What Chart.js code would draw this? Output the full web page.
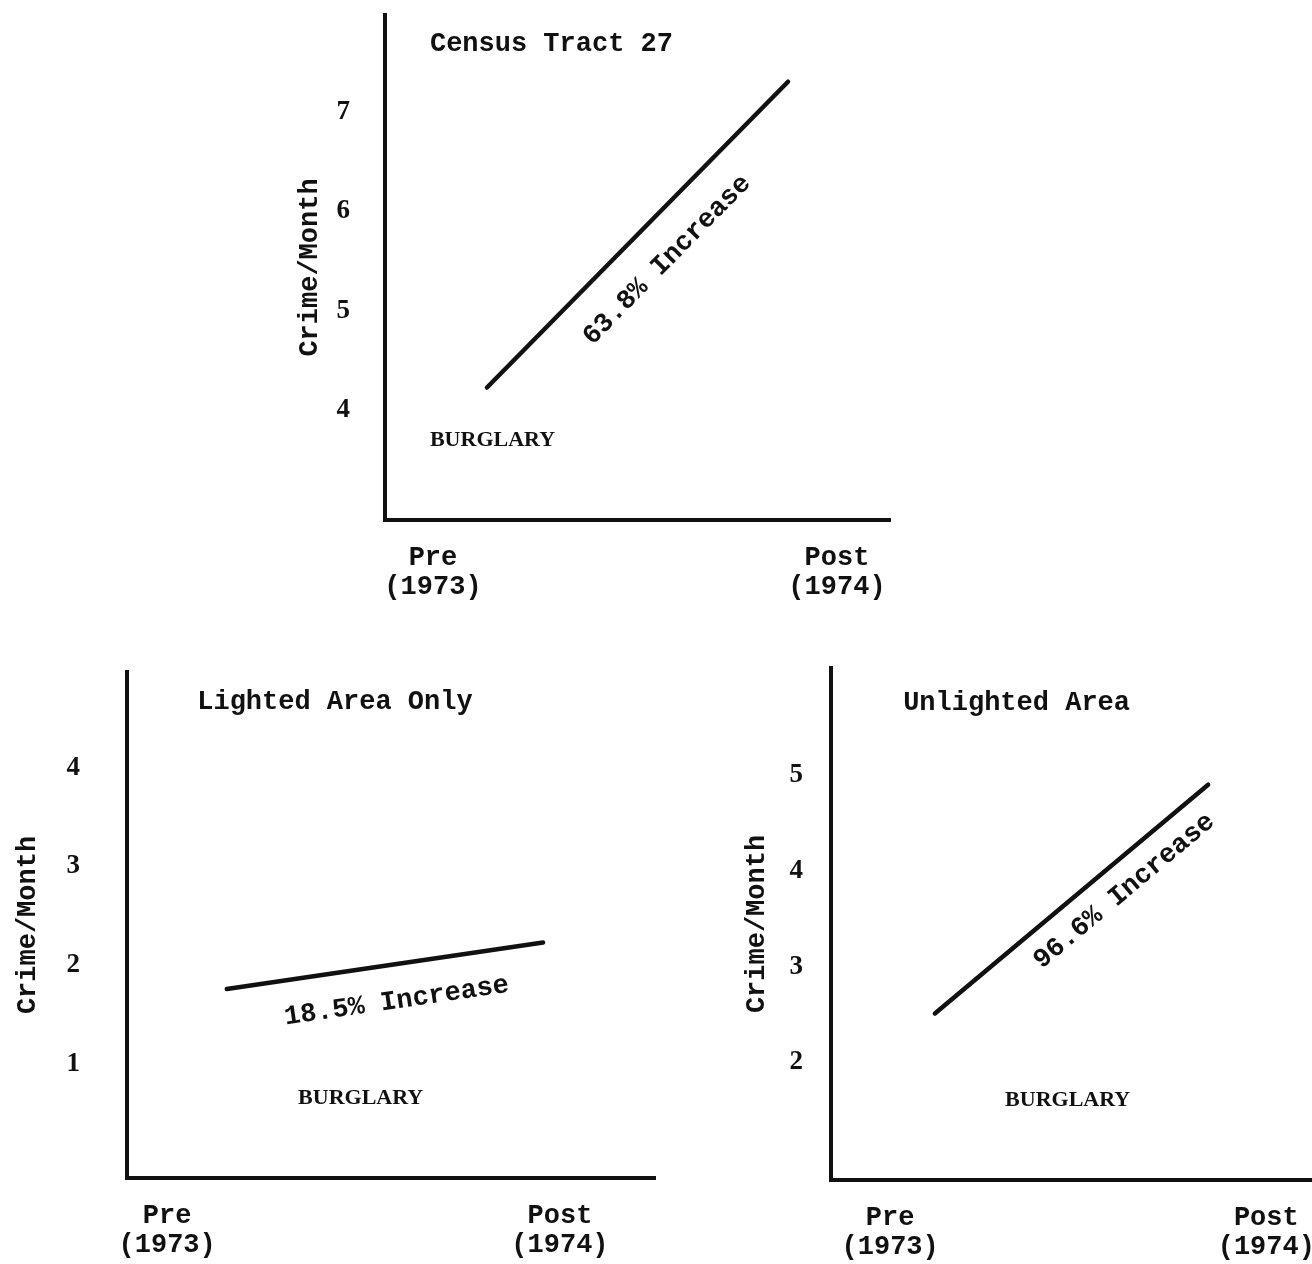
<!DOCTYPE html>
<html>
<head>
<meta charset="utf-8">
<script src="https://cdn.jsdelivr.net/npm/chart.js@4.4.1/dist/chart.umd.min.js"></script>
<style>
  html, body { margin: 0; padding: 0; background: #fff; overflow: hidden; }
  body { width: 1312px; height: 1264px; position: relative; }
  .panel { position: absolute; }
</style>
</head>
<body>
<div class="panel" style="left:280px;top:0;width:620px;height:630px"><canvas id="js--chart--1"></canvas></div>
<div class="panel" style="left:0;top:650px;width:680px;height:614px"><canvas id="js--chart--2"></canvas></div>
<div class="panel" style="left:700px;top:650px;width:640px;height:614px"><canvas id="js--chart--3"></canvas></div>
<script>
// periods on the x axis
const periods = [["Pre", "(1973)"], ["Post", "(1974)"]];

// burglaries per month, pre and post
const tractValues = [4.23, 7.3];
const lightedValues = [1.76, 2.23];
const unlightedValues = [2.51, 4.9];

// y tick labels shown on each panel
const tractTicks = [4, 5, 6, 7];
const lightedTicks = [1, 2, 3, 4];
const unlightedTicks = [2, 3, 4, 5];

const panelTitles = ["Census Tract 27", "Lighted Area Only", "Unlighted Area"];
const increases = ["63.8% Increase", "18.5% Increase", "96.6% Increase"];
const crimeType = "BURGLARY";

const ink = '#111';
const mono = '"Liberation Mono", "DejaVu Sans Mono", monospace';
const serif = '"Liberation Serif", "DejaVu Serif", serif';

const notes = {
    id: 'notes',
    afterDatasetsDraw(chart, args, opts) {
        const ctx = chart.ctx;
        const a = chart.chartArea;
        ctx.save();
        ctx.fillStyle = ink;
        ctx.textBaseline = 'middle';
        ctx.textAlign = 'left';
        ctx.font = 'bold 27px ' + mono;
        ctx.fillText(opts.title, a.left + opts.titleAt[0] * a.width, a.top + opts.titleAt[1] * a.height);
        ctx.font = 'bold 22px ' + serif;
        ctx.fillText(crimeType, a.left + opts.typeAt[0] * a.width, a.top + opts.typeAt[1] * a.height);

        // label along the line
        const pts = chart.getDatasetMeta(0).data;
        const dx = pts[1].x - pts[0].x, dy = pts[1].y - pts[0].y;
        const ang = Math.atan2(dy, dx);
        const cx = pts[0].x + dx * opts.labelAt - Math.sin(ang) * opts.labelOffset;
        const cy = pts[0].y + dy * opts.labelAt + Math.cos(ang) * opts.labelOffset;
        ctx.translate(cx, cy);
        ctx.rotate(ang);
        ctx.textAlign = 'center';
        ctx.font = 'bold 27px ' + mono;
        ctx.fillText(opts.label, 0, 0);
        ctx.restore();
    }
};

function noPad(s) {
    s.paddingTop = 0;
    s.paddingBottom = 0;
    s.paddingLeft = 0;
    s.paddingRight = 0;
}

function makePanel(id, p) {
    const config = {
        type: 'line',
        data: {
            datasets: [{
                data: p.values.map((v, i) => ({ x: p.lineX[i], y: v })),
                borderColor: ink,
                borderWidth: 4.5,
                borderCapStyle: 'round',
                pointRadius: 0,
                fill: false
            }]
        },
        options: {
            responsive: true,
            maintainAspectRatio: false,
            animation: false,
            devicePixelRatio: 1,
            layout: { padding: p.padding },
            plugins: {
                legend: { display: false },
                tooltip: { enabled: false },
                notes: {
                    title: p.title, titleAt: p.titleAt, typeAt: p.typeAt,
                    label: p.label, labelAt: p.labelAt, labelOffset: p.labelOffset
                }
            },
            scales: {
                x: {
                    type: 'linear',
                    min: 0,
                    max: 100,
                    grid: { display: false, drawTicks: false },
                    border: { display: true, color: ink, width: 4 },
                    afterBuildTicks: s => { s.ticks = p.tickX.map(v => ({ value: v })); },
                    afterFit: s => { s.height = p.xHeight; noPad(s); },
                    ticks: {
                        color: ink,
                        padding: 23,
                        maxRotation: 0,
                        autoSkip: false,
                        font: { family: mono, size: 27, weight: 'bold', lineHeight: 1.1 },
                        callback: (v, i) => periods[i]
                    }
                },
                y: {
                    type: 'linear',
                    min: p.yMin,
                    max: p.yMax,
                    grid: { display: false, drawTicks: false },
                    border: { display: true, color: ink, width: 4 },
                    afterBuildTicks: s => { s.ticks = p.ticks.map(v => ({ value: v })); },
                    afterFit: s => { s.width = p.yWidth; noPad(s); },
                    ticks: {
                        color: ink,
                        padding: p.tickPad,
                        font: { family: serif, size: 27, weight: 'bold' }
                    },
                    title: {
                        display: true,
                        text: 'Crime/Month',
                        color: ink,
                        padding: { top: p.titlePad, bottom: 0 },
                        font: { family: mono, size: 27, weight: 'bold' }
                    }
                }
            }
        },
        plugins: [notes]
    };
    return new Chart(document.getElementById(id), config);
}

makePanel("js--chart--1", {
    values: tractValues, ticks: tractTicks, title: panelTitles[0], label: increases[0],
    lineX: [20.2, 79.8], tickX: [9.5, 89.5], yMin: 2.9, yMax: 7.97,
    padding: { top: 15, right: 10, bottom: 0, left: 0 }, yWidth: 105, xHeight: 110,
    tickPad: 35, titlePad: 14,
    titleAt: [0.089, 0.057], typeAt: [0.089, 0.842], labelAt: 0.506, labelOffset: 39
});

makePanel("js--chart--2", {
    values: lightedValues, ticks: lightedTicks, title: panelTitles[1], label: increases[1],
    lineX: [18.9, 78.8], tickX: [7.6, 82], yMin: -0.155, yMax: 4.97,
    padding: { top: 22, right: 25, bottom: 0, left: 0 }, yWidth: 127, xHeight: 86,
    tickPad: 47, titlePad: 12,
    titleAt: [0.133, 0.059], typeAt: [0.324, 0.842], labelAt: 0.52, labelOffset: 37
});

makePanel("js--chart--3", {
    values: unlightedValues, ticks: unlightedTicks, title: panelTitles[2], label: increases[2],
    lineX: [21.6, 78.4], tickX: [12.3, 90.5], yMin: 0.77, yMax: 6.12,
    padding: { top: 18, right: 28, bottom: 0, left: 0 }, yWidth: 131, xHeight: 84,
    tickPad: 28, titlePad: 41,
    titleAt: [0.15, 0.068], typeAt: [0.362, 0.844], labelAt: 0.628, labelOffset: 28
});
</script>
</body>
</html>
